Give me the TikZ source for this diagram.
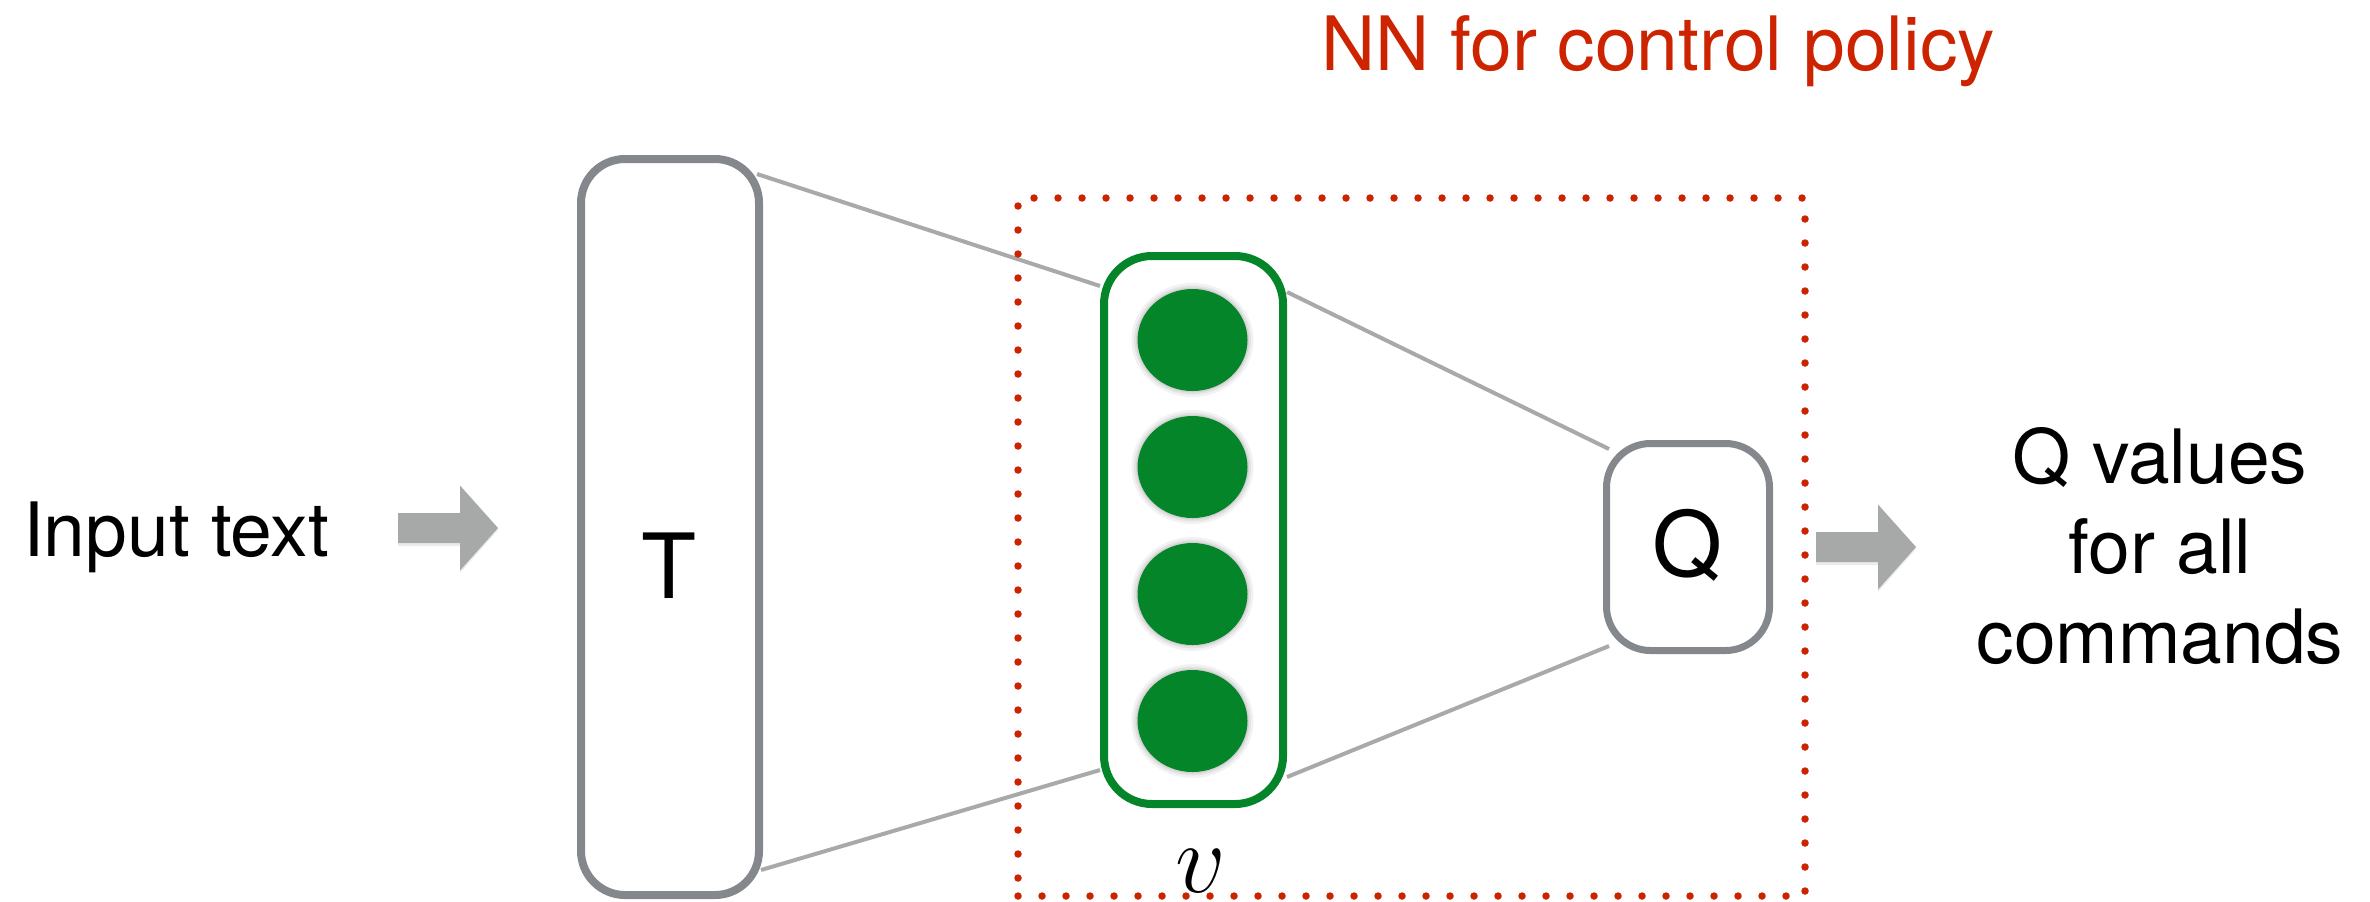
\documentclass[tikz,border=0pt]{standalone}
\usepackage{fontspec}
\setmainfont{TeX Gyre Heros}
\usetikzlibrary{calc,shapes.geometric,backgrounds}

\definecolor{boxgray}{RGB}{132,135,140}
\definecolor{linkgray}{RGB}{168,170,169}
\definecolor{arrowgray}{RGB}{166,169,167}
\definecolor{unitgreen}{RGB}{5,133,42}
\definecolor{policyred}{RGB}{204,36,0}

\tikzset{
  layerbox/.style={draw=boxgray, line width=4pt, rounded corners=22pt,
    fill=white, inner sep=0pt},
  vecbox/.style={draw=unitgreen, line width=4pt, rounded corners=24pt,
    fill=white, inner sep=0pt},
  unit/.style={ellipse, fill=unitgreen, inner sep=0pt,
    minimum width=55pt, minimum height=51pt,
    preaction={draw=black, draw opacity=.05, line width=6pt},
    preaction={draw=black, draw opacity=.06, line width=3.5pt},
    preaction={draw=black, draw opacity=.07, line width=1.5pt}},
  link/.style={draw=linkgray, line width=2pt},
  txt/.style={font=\fontsize{37.5}{45}\selectfont, inner sep=0pt},
  bigtxt/.style={font=\fontsize{45}{50}\selectfont, inner sep=0pt},
  fatarrow/.pic={
    \fill[black, opacity=.08] (0,-14) -- (62,-14) -- (62,-41) -- (100,2) -- (62,45) -- (62,18) -- (0,18) -- cycle;
    \fill[arrowgray] (0,-15) -- (62,-15) -- (62,-42.5) -- (100,0) -- (62,42.5) -- (62,15) -- (0,15) -- cycle;
  }
}

\begin{document}
\begin{tikzpicture}[x=0.5pt, y=-0.5pt]
\useasboundingbox (0,0) rectangle (2370,901);

% text-encoding layer T
\node[layerbox, minimum width=89pt, minimum height=368pt] (T) at (670,527) {};
\node[bigtxt, anchor=base] (Tlabel) at (669,598) {T};

% hidden vector v with its four units
\node[vecbox, minimum width=89.5pt, minimum height=274pt] (G) at (1193.5,530) {};
\node[unit] (u1) at (1192.5,340) {};
\node[unit] (u2) at (1192.5,467) {};
\node[unit] (u3) at (1192.5,594) {};
\node[unit] (u4) at (1192.5,721) {};
\node[font=\fontsize{24.88}{30}\selectfont, scale=2, inner sep=0pt, anchor=base] (vlabel) at (1201,892) {$v$};

% output layer Q
\node[layerbox, line width=3.5pt, minimum width=81.5pt, minimum height=103.5pt] (Q) at (1688,547) {};
\node[bigtxt, anchor=base] (Qlabel) at (1687,576) {Q};

% policy network frame
\node[draw=policyred, line width=3.75pt, line cap=round, dash pattern=on 0pt off 12pt,
      inner sep=0pt, minimum width=393.5pt, minimum height=349pt] (NN) at (1411.5,547) {};
\node[txt, text=policyred, anchor=base] (NNlabel) at (1658,70) {NN for control policy};

% input and output texts
\node[txt, anchor=base] (input) at (176,556) {Input text};
\node[txt, anchor=base, align=center] (output) at (2160,663) {Q values\\for all\\commands};

% block arrows
\pic at (398,528) {fatarrow};
\pic at (1816,547) {fatarrow};

% connections between the layers
\coordinate (Ta) at ($(T.north east)+(-6,19)$);
\coordinate (Tb) at ($(T.south east)+(-2,-29)$);
\coordinate (Ga) at ($(G.north west)+(0,34)$);
\coordinate (Gb) at ($(G.south west)+(0,-38)$);
\coordinate (Gc) at ($(G.north east)+(0,40)$);
\coordinate (Gd) at ($(G.south east)+(0,-31)$);
\coordinate (Qa) at ($(Q.north west)+(6,9)$);
\coordinate (Qb) at ($(Q.south west)+(6,-8)$);
\begin{pgfonlayer}{background}
  \draw[link] (Ta) -- (Ga);
  \draw[link] (Tb) -- (Gb);
  \draw[link] (Gc) -- (Qa);
  \draw[link] (Gd) -- (Qb);
\end{pgfonlayer}
\end{tikzpicture}
\end{document}
